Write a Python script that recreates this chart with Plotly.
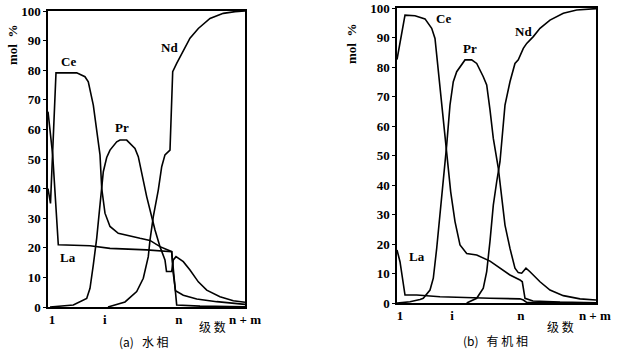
import plotly.graph_objects as go

# ---------------- Panel (a) 水相 : x = stage position (0..53), y = mol %
la_a_x = [0, 1.26, 2.77, 11.30, 16.68, 26.55, 33.28, 33.71, 34.62, 40.89, 53]
la_a_y = [66, 51.4, 21, 20.7, 19.8, 19.3, 18.7, 12, 0.7, 0.3, 0.1]

ce_a_x = [0, 0.67, 2.15, 7.72, 9.95, 10.84, 12.19, 13.10, 13.99, 14.45, 15.33, 16.68,
          18.91, 24.75, 27.44, 30.13, 33.28, 33.63, 34.30, 36.40, 40.01, 45.39, 53]
ce_a_y = [40, 35, 79.1, 79.1, 77.8, 76.1, 68.2, 60.4, 51.4, 40.1, 31.7, 27.2,
          24.9, 23.2, 22.5, 20.4, 18.7, 12, 5.5, 4, 2.7, 1.8, 0.9]

pr_a_x = [0.54, 6.81, 10.41, 11.30, 12.19, 13.10, 13.99, 14.88, 15.79, 16.68, 18.48, 19.37,
          21.17, 22.06, 23.40, 24.29, 25.21, 26.55, 27.90, 28.79, 30.13, 31.47, 31.88, 33.28,
          33.71, 34.44, 36.40, 38.20, 40.44, 42.70, 46.27, 49.85, 53]
pr_a_y = [0, 0.7, 2.9, 6.3, 14.2, 23.2, 34.5, 45.7, 50.5, 53, 55.8, 56.4,
          56.4, 55.3, 53.6, 50.8, 45.2, 37.3, 30.5, 26, 20.4, 15.9, 12, 12,
          15.9, 17, 15.3, 12.5, 8.5, 5.7, 3.5, 2.1, 1.6]

nd_a_x = [16.14, 20.72, 23.86, 25.64, 26.98, 27.44, 28.33, 29.67, 30.59, 31.47, 32.82,
          33.55, 34.62, 36.24, 38.20, 40.44, 43.58, 47.16, 50.32, 53]
nd_a_y = [0, 1.7, 5.2, 9.7, 17, 22.6, 30.5, 39.5, 47.4, 51.4, 53,
          79.5, 82.3, 86, 90.8, 94.1, 97.5, 99.2, 99.8, 100]

# ---------------- Panel (b) 有机相
la_b_x = [0, 0.80, 2.13, 5.25, 11.45, 20.32, 24.77, 32.76, 33.64, 34.54, 43.41, 53]
la_b_y = [18, 14, 2.7, 2.7, 2.1, 1.6, 1.6, 1.4, 1.0, 0.2, 0.1, 0]

ce_b_x = [0, 2.13, 4.79, 7.46, 9.24, 10.12, 10.57, 11.45, 12.33, 13.24, 13.66, 14.30,
          15.45, 16.78, 18.56, 21.23, 24.77, 27.43, 30.09, 32.76, 33.37, 34.09, 36.22, 43.41, 53]
ce_b_y = [82.5, 97.6, 97.4, 96.3, 93.1, 89.7, 84.1, 72.8, 61.5, 50.2, 44.5, 37.7,
          27.6, 19.7, 16.8, 16.3, 14.2, 11.8, 9.5, 7.8, 7.2, 1.6, 0.7, 0.3, 0.1]

pr_b_x = [0, 3.46, 6.13, 7.00, 8.79, 9.67, 10.57, 11.45, 12.33, 13.24, 14.11, 14.99, 15.90,
          18.11, 19.89, 21.23, 22.98, 23.89, 24.77, 25.65, 26.98, 27.88, 28.76, 30.09, 31.42,
          32.30, 33.21, 34.35, 35.42, 38.08, 40.75, 44.29, 48.74, 53]
pr_b_y = [0, 0.4, 1.2, 1.6, 4.4, 8.4, 18.5, 29.8, 41.1, 53.6, 67.1, 75, 78.4,
          82.4, 82.4, 81.2, 76.7, 73.9, 65.5, 55.8, 45.7, 35.5, 26.4, 18.5, 11.8,
          10.3, 10.1, 11.8, 10.6, 7.2, 4.4, 2.5, 1.4, 1.0]

nd_b_x = [18.56, 21.23, 22.98, 23.89, 24.77, 25.65, 26.55, 26.98, 27.43, 28.76, 30.09, 31.42,
          32.30, 33.64, 34.54, 36.30, 38.08, 40.75, 44.29, 47.86, 53]
nd_b_y = [0, 1.6, 5, 10.6, 21, 33.2, 41.1, 44.5, 47.9, 67.1, 75, 81.2,
          82.4, 86.3, 88, 90.3, 93.1, 95.9, 98.2, 99.3, 99.8]

# tick labels
x_ticktext = ["1", "i", "n", "n + m"]
x_tickvals_a = [1.08, 15.3, 35.2, 53.0]
x_tickvals_b = [0.8, 14.65, 33.0, 52.7]
y_tickvals = [0, 10, 20, 30, 40, 50, 60, 70, 80, 90, 100]

series_names = ["La", "Ce", "Pr", "Nd"]
label_pos_a = [(5.4, 16.6), (5.4, 83), (19.9, 60.7), (32.8, 87.8)]
label_pos_b = [(5.2, 15.6), (12.3, 96.3), (19.4, 86.4), (33.6, 91.9)]

W, H = 617, 352
SERIF = "Liberation Serif"
CJK = "Noto Sans CJK SC"

fig = go.Figure()
line = dict(color="black", width=1.6)
for xs, ys in [(la_a_x, la_a_y), (ce_a_x, ce_a_y), (pr_a_x, pr_a_y), (nd_a_x, nd_a_y)]:
    fig.add_trace(go.Scatter(x=xs, y=ys, mode="lines", line=line, xaxis="x", yaxis="y",
                             showlegend=False, hoverinfo="skip"))
for xs, ys in [(la_b_x, la_b_y), (ce_b_x, ce_b_y), (pr_b_x, pr_b_y), (nd_b_x, nd_b_y)]:
    fig.add_trace(go.Scatter(x=xs, y=ys, mode="lines", line=line, xaxis="x2", yaxis="y2",
                             showlegend=False, hoverinfo="skip"))

tickfont = dict(family=SERIF, size=13, color="black", weight="bold")
common_x = dict(range=[0, 53], showgrid=False, zeroline=False, showline=True, mirror=True,
                linecolor="black", linewidth=1.5, ticks="", ticktext=x_ticktext,
                tickfont=tickfont, fixedrange=True, automargin=False)
common_y = dict(range=[0, 100], showgrid=False, zeroline=False, showline=True, mirror=True,
                linecolor="black", linewidth=1.5, ticks="outside", ticklen=3, tickwidth=1,
                tickcolor="black", tickvals=y_tickvals, tickfont=tickfont, fixedrange=True,
                automargin=False)

fig.update_layout(
    width=W, height=H, margin=dict(l=0, r=0, t=0, b=0, autoexpand=False),
    paper_bgcolor="white", plot_bgcolor="white",
    xaxis=dict(domain=[48 / W, 245 / W], anchor="y", tickvals=x_tickvals_a, **common_x),
    yaxis=dict(domain=[1 - 307 / H, 1 - 11 / H], anchor="x", **common_y),
    xaxis2=dict(domain=[397 / W, 596 / W], anchor="y2", tickvals=x_tickvals_b, **common_x),
    yaxis2=dict(domain=[1 - 303 / H, 1 - 8 / H], anchor="x2", **common_y),
)

ann = []
lab_font = dict(family=SERIF, size=13, color="black", weight="bold")
for name, (x, y) in zip(series_names, label_pos_a):
    ann.append(dict(x=x, y=y, xref="x", yref="y", text=name, showarrow=False, font=lab_font,
                    xanchor="center", yanchor="middle"))
for name, (x, y) in zip(series_names, label_pos_b):
    ann.append(dict(x=x, y=y, xref="x2", yref="y2", text=name, showarrow=False, font=lab_font,
                    xanchor="center", yanchor="middle"))

# axis titles and captions (pixel positions converted to paper coordinates)
def px(x, y):
    return x / W, 1 - y / H

for (x, y) in [(13, 45), (351, 44)]:
    xp, yp = px(x, y)
    ann.append(dict(x=xp, y=yp, xref="paper", yref="paper", text="mol  %", textangle=-90,
                    xanchor="center", yanchor="middle", showarrow=False, font=lab_font))
for (x, y) in [(212, 326), (560, 326)]:
    xp, yp = px(x, y)
    ann.append(dict(x=xp, y=yp, xref="paper", yref="paper", text="级 数", showarrow=False,
                    xanchor="center", yanchor="middle",
                    font=dict(family=CJK, size=12, color="black")))
for (x, y, t) in [(144, 341, "(a)   水 相"), (495, 340, "(b)   有 机 相")]:
    xp, yp = px(x, y)
    ann.append(dict(x=xp, y=yp, xref="paper", yref="paper", text=t, showarrow=False,
                    xanchor="center", yanchor="middle",
                    font=dict(family=CJK, size=12, color="black")))

fig.update_layout(annotations=ann)
fig.write_html("out.html", config={"displayModeBar": False},
               post_script="document.body.style.margin='0';document.body.style.overflow='hidden';")
